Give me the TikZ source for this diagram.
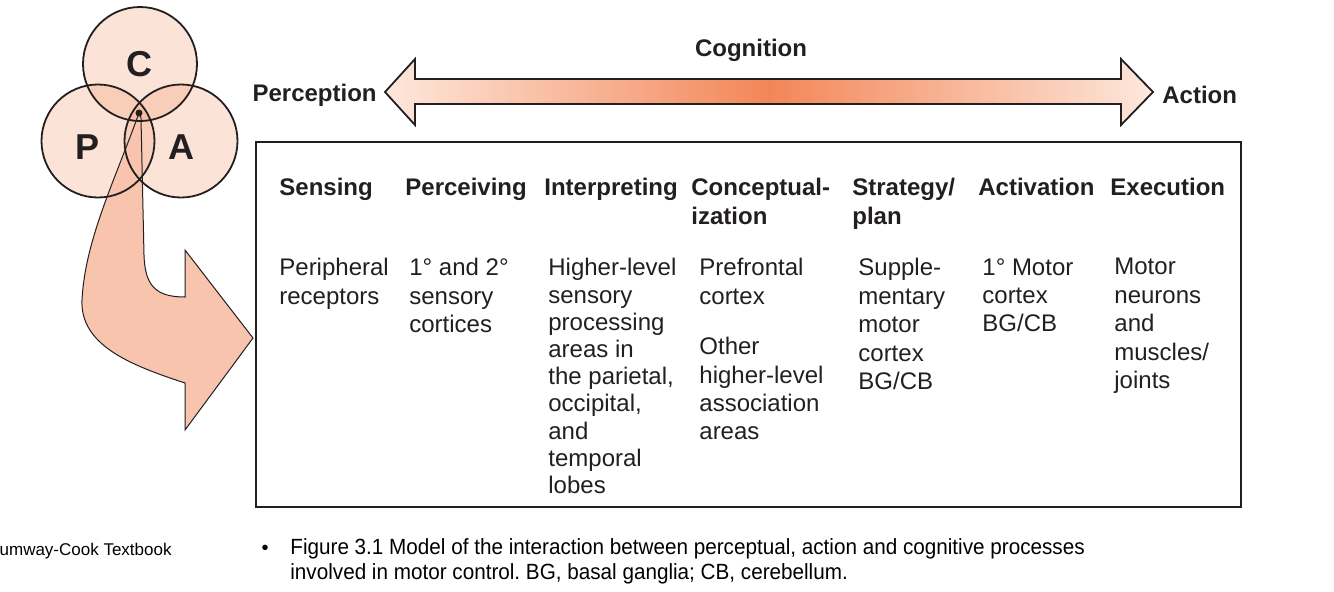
\documentclass[tikz,border=0pt]{standalone}
\usepackage{fontspec}
\setmainfont{Liberation Sans}
\newfontfamily\capfont[FakeStretch=0.94]{Liberation Sans}
\usetikzlibrary{positioning}
\frenchspacing
\definecolor{vennfill}{RGB}{239,143,95}
\definecolor{bentfill}{RGB}{248,196,174}
\definecolor{peach}{RGB}{253,232,220}
\definecolor{deeporange}{RGB}{243,134,88}
\definecolor{inkgray}{RGB}{35,31,32}
\tikzset{
  hdr/.style={anchor=north west, inner sep=0pt, align=left, text=inkgray,
              font=\bfseries\fontsize{12}{14.5}\selectfont},
  cell/.style={anchor=north west, inner sep=0pt, align=left, text=inkgray,
               font=\fontsize{12}{14.2}\selectfont},
  side/.style={inner sep=0pt, text=inkgray, font=\bfseries\fontsize{12}{14}\selectfont},
  letter/.style={inner sep=0pt, text=inkgray, font=\bfseries\fontsize{18}{20}\selectfont},
  venn/.style={fill=vennfill, fill opacity=0.25},
  vennline/.style={draw=inkgray, line width=0.9pt},
  capt/.style={anchor=base west, inner sep=0pt, align=left, text=black,
               font=\capfont\fontsize{11}{12.2}\selectfont}
}

\begin{document}
\begin{tikzpicture}[x=0.5pt,y=-0.5pt]
  \useasboundingbox (0,0) rectangle (1334,591);
  % P, C, A circles
  \fill[venn] (140,64) circle[radius=57];
  \fill[venn] (98,141) circle[radius=56.5];
  \fill[venn] (181,141) circle[radius=56.5];
  % bent arrow into the table
  \filldraw[fill=bentfill, draw=inkgray, line width=0.5pt]
    (139,113) .. controls (115,180) and (85,240) .. (82,300)
    .. controls (80,345) and (130,365) .. (185,383)
    -- (185,430) -- (253,338) -- (185,250) -- (185,297)
    .. controls (155,297) and (145,285) .. (144,255) -- (141,118) -- cycle;
  \draw[vennline] (140,64) circle[radius=57];
  \draw[vennline] (98,141) circle[radius=56.5];
  \draw[vennline] (181,141) circle[radius=56.5];
  \fill[inkgray] (139,113) circle[radius=3.5];
  \node[letter] (cLetter) at (139,64) {C};
  \node[letter] (pLetter) at (88,147) {P};
  \node[letter] (aLetter) at (181,147) {A};

  % cognition double arrow
  \shadedraw[left color=peach, right color=peach, middle color=deeporange,
             draw=inkgray, line width=0.9pt]
    (385,92) -- (415,59) -- (415,79) -- (1121,79) -- (1121,59) -- (1153,92)
    -- (1121,125) -- (1121,104) -- (415,104) -- (415,125) -- cycle;
  \node[side, anchor=east] (perc) at (377,95) {Perception};
  \node[side, anchor=west] (act) at (1162,95) {Action};
  \node[side] (cogn) at (751,50) {Cognition};

  % table
  \draw[inkgray, line width=1.35pt] (256,142) rectangle (1241,507);
  \node[hdr] (hSens) at (279,178) {Sensing};
  \node[hdr] (hPerc) at (405,178) {Perceiving};
  \node[hdr] (hInt) at (544,178) {Interpreting};
  \node[hdr] (hConc) at (691,178) {Conceptual-\\ization};
  \node[hdr] (hStrat) at (852,178) {Strategy/\\plan};
  \node[hdr] (hAct) at (978,178) {Activation};
  \node[hdr] (hExec) at (1110,178) {Execution};

  \node[cell] (bSens) at (279,258) {Peripheral\\receptors};
  \node[cell] (bPerc) at (409,258) {1° and 2°\\sensory\\cortices};
  \node[cell, font=\fontsize{12}{13.6}\selectfont] (bInt) at (548,258)
    {Higher-level\\sensory\\processing\\areas in\\the parietal,\\occipital,\\and\\temporal\\lobes};
  \node[cell] (bConc) at (699,258) {Prefrontal\\cortex\\[11pt]Other\\higher-level\\association\\areas};
  \node[cell] (bStrat) at (858,258) {Supple-\\mentary\\motor\\cortex\\BG/CB};
  \node[cell] (bAct) at (982,258) {1° Motor\\cortex\\BG/CB};
  \node[cell] (bExec) at (1114,258) {Motor\\neurons\\and\\muscles/\\joints};

  % caption
  \node[inner sep=0pt, anchor=base east, font=\fontsize{8.5}{10}\selectfont] (src) at (172,555) {umway-Cook Textbook};
  \node[inner sep=0pt, anchor=base, font=\fontsize{10}{12}\selectfont] (bullet) at (265,554) {•};
  \node[capt, anchor=north west] (capText) at (290,538.5)
    {Figure 3.1 Model of the interaction between perceptual, action and cognitive processes\\involved in motor control. BG, basal ganglia; CB, cerebellum.};
\end{tikzpicture}
\end{document}
